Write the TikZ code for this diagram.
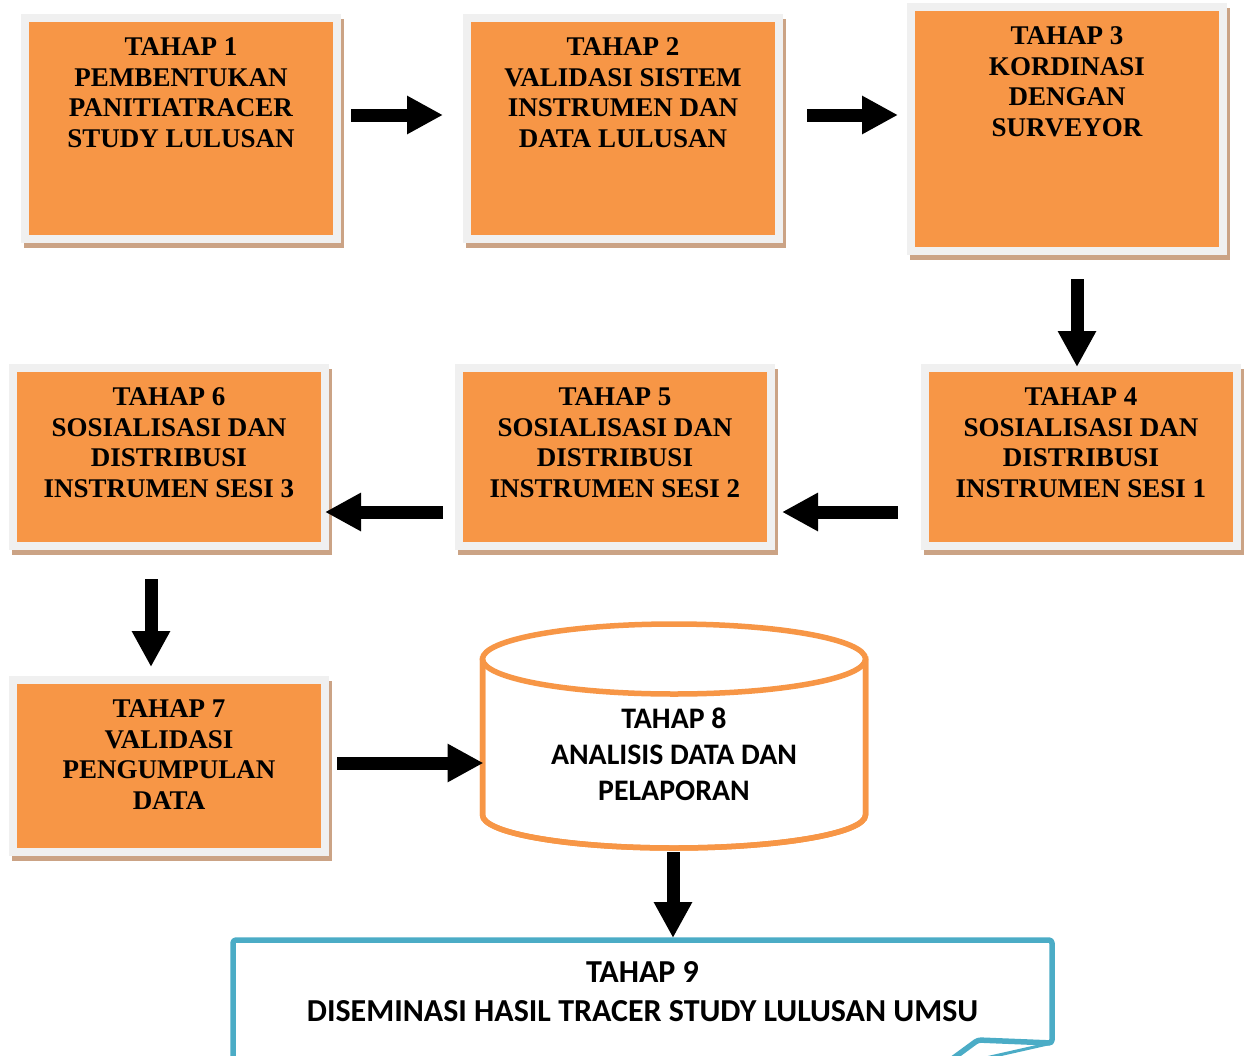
\documentclass[tikz,border=0pt]{standalone}
\usepackage{fontspec}
\newfontfamily\tnr{Liberation Serif}
\newfontfamily\cali{Carlito}
\usetikzlibrary{arrows.meta,calc}
\definecolor{boxorange}{HTML}{F79646}
\definecolor{framegray}{HTML}{F0F0F0}
\definecolor{shadowtan}{HTML}{CBA385}
\definecolor{boxblue}{HTML}{4BACC6}
\newcommand{\stagetxt}[2]{\parbox[c][#1][t]{306pt}{\centering\rule{0pt}{37.5pt}#2}}
\begin{document}
\begin{tikzpicture}[x=1pt,y=-1pt,
  stage/.style={rectangle, fill=boxorange, draw=framegray, line width=8pt,
    inner sep=0pt, outer sep=0pt, minimum width=312pt,
    font=\tnr\bfseries\fontsize{27}{30.7}\selectfont,
    preaction={draw=shadowtan, fill=shadowtan, line width=8pt,
      transform canvas={xshift=3pt,yshift=-5pt}}},
  arr/.style={line width=13pt, -{Triangle[length=36pt,width=36pt]}},
  cylline/.style={draw=boxorange, line width=5.5pt, fill=white},
  notebox/.style={draw=boxblue, line width=5.5pt, rounded corners=3pt, line join=round}
]
\useasboundingbox (0,0) rectangle (1245,1055);
\clip (0,0) rectangle (1245,1055);

% row 1
\node[stage] (b1) at (181,128.5) {\stagetxt{221pt}{TAHAP 1\\PEMBENTUKAN\\PANITIATRACER\\STUDY LULUSAN}};
\node[stage] (b2) at (623,128.5) {\stagetxt{221pt}{TAHAP 2\\VALIDASI SISTEM\\INSTRUMEN DAN\\DATA LULUSAN}};
\node[stage] (b3) at (1067,129) {\stagetxt{244pt}{TAHAP 3\\KORDINASI\\DENGAN\\SURVEYOR}};
% row 2
\node[stage] (b4) at (1081,457) {\stagetxt{178pt}{TAHAP 4\\SOSIALISASI DAN\\DISTRIBUSI\\INSTRUMEN SESI 1}};
\node[stage] (b5) at (615,457) {\stagetxt{178pt}{TAHAP 5\\SOSIALISASI DAN\\DISTRIBUSI\\INSTRUMEN SESI 2}};
\node[stage] (b6) at (169,457) {\stagetxt{178pt}{TAHAP 6\\SOSIALISASI DAN\\DISTRIBUSI\\INSTRUMEN SESI 3}};
% row 3
\node[stage] (b7) at (169,766) {\stagetxt{172pt}{TAHAP 7\\VALIDASI\\PENGUMPULAN\\DATA}};

% cylinder (tahap 8)
\path[cylline] (482.5,659) -- (482.5,815)
  arc[start angle=180, end angle=360, x radius=191.5pt, y radius=33pt]
  -- (865.5,659) -- cycle;
\draw[cylline] (674,659) ellipse [x radius=191.5pt, y radius=35pt];
\draw[draw=boxorange, line width=5.5pt] (482.5,659) -- (482.5,815)
  arc[start angle=180, end angle=360, x radius=191.5pt, y radius=33pt]
  -- (865.5,659);
\node[inner sep=0pt, outer sep=0pt, minimum width=383pt, minimum height=223pt,
  font=\cali\bfseries\fontsize{29.8}{36}\selectfont] (cyl) at (674,736)
  {\parbox[c][223pt][t]{380pt}{\centering\rule{0pt}{103.5pt}TAHAP 8\\ANALISIS DATA DAN\\PELAPORAN}};

% tahap 9 (note with folded corner)
\draw[notebox] (233,1070) -- (233,940) -- (1052,940) -- (1052,1043) -- (978,1040) -- (948,1062);
\draw[boxblue, line width=3pt, line join=round] (1052,1043) -- (968,1062);
\node[inner sep=0pt, outer sep=0pt, minimum width=819pt, minimum height=130pt,
  font=\cali\bfseries\fontsize{32}{39}\selectfont] (b9) at (642.5,1005)
  {\parbox[c][130pt][t]{810pt}{\centering\rule{0pt}{42.5pt}TAHAP 9\\DISEMINASI HASIL TRACER STUDY LULUSAN UMSU}};

% connectors
\draw[arr] ([shift={(14,-13.5)}]b1.east) -- ([shift={(-24,-13.5)}]b2.west);
\draw[arr] ([shift={(28,-13.5)}]b2.east) -- ([shift={(-13,-14)}]b3.west);
\draw[arr] ([shift={(10,28)}]b3.south) -- ([shift={(-4,-1)}]b4.north);
\draw[arr] ([shift={(-27,55)}]b4.west) -- ([shift={(11,55)}]b5.east);
\draw[arr] ([shift={(-16,55)}]b5.west) -- ([shift={(0,55)}]b6.east);
\draw[arr] ([shift={(-18,33)}]b6.south) -- ([shift={(-18,-13)}]b7.north);
\draw[arr] ([shift={(12,-3)}]b7.east) -- ([shift={(1,27)}]cyl.west);
\draw[arr] ([shift={(-1,4.5)}]cyl.south) -- ([shift={(30.5,-2)}]b9.north);
\end{tikzpicture}
\end{document}
